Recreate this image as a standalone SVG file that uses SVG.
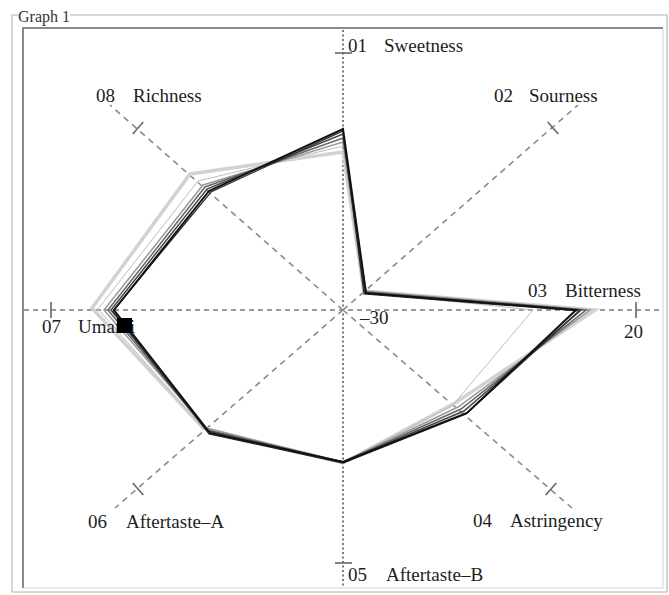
<svg xmlns="http://www.w3.org/2000/svg" width="669" height="595" viewBox="0 0 669 595">
<style>
.t{font-family:"Liberation Serif","Times New Roman",serif;font-size:19px;fill:#1e1e1e}
.g{font-family:"Liberation Serif","Times New Roman",serif;font-size:16px;fill:#333}
.ax{stroke:#7a7a7a;fill:none}
.dot{stroke-dasharray:2 2.5;stroke-width:2}
.dash{stroke-dasharray:5 4;stroke-width:1.6}
.dia{stroke-dasharray:6 5;stroke-width:1.6;stroke:#8a8a8a}
.tk{stroke:#666;stroke-width:1.6;fill:none}
.s{fill:none;stroke-linejoin:miter}
</style>
<rect width="669" height="595" fill="#fff"/>
<g id="frame">
<path d="M18,15 H12 V592 H667 V15 H70" fill="none" stroke="#cacaca" stroke-width="1.5"/>
<path d="M663,28 V588 H23" fill="none" stroke="#e2e2e2" stroke-width="1.5"/>
<path d="M23,588 V28 H663" fill="none" stroke="#8a8a8a" stroke-width="2"/>
<text class="g" x="18" y="22">Graph 1</text>
</g>
<g id="axes">
<line class="ax dot" x1="343" y1="30" x2="343" y2="588"/>
<line class="ax dash" x1="24" y1="310" x2="661" y2="310"/>
<line class="ax dia" x1="343" y1="310" x2="110" y2="105"/>
<line class="ax dia" x1="343" y1="310" x2="578" y2="105"/>
<line class="ax dia" x1="343" y1="310" x2="115" y2="508"/>
<line class="ax dia" x1="343" y1="310" x2="572" y2="508"/>
<line class="tk" x1="335" y1="53" x2="352" y2="53"/>
<line class="tk" x1="335" y1="563" x2="352" y2="563"/>
<line class="tk" x1="51" y1="302" x2="51" y2="318"/>
<line class="tk" x1="636" y1="302" x2="636" y2="318"/>
<line class="tk" x1="132.7" y1="134" x2="143.3" y2="122"/>
<line class="tk" x1="547.7" y1="122" x2="558.3" y2="134"/>
<line class="tk" x1="132.7" y1="483" x2="143.3" y2="495"/>
<line class="tk" x1="545.7" y1="495" x2="556.3" y2="483"/>
</g>
<g id="series">
<polygon class="s" stroke="#d2d2d2" stroke-width="3.5" points="343,152 364,291 595,310 455,403 343,463 203,428 92,308 190,174"/>
<polygon class="s" stroke="#bdbdbd" stroke-width="1" points="343,146 363,292 533,310 452,406 343,462 205,430 98,309 198,181"/>
<polygon class="s" stroke="#9a9a9a" stroke-width="1.5" points="343,142 365,291 590,310 458,407 343,462 206,428 104,310 203,185"/>
<polygon class="s" stroke="#666" stroke-width="1.5" points="343,138 366,292 586,310 461,409 343,462 207,430 108,310 205,187"/>
<polygon class="s" stroke="#444" stroke-width="1.5" points="343,134 365,293 581,310 464,411 343,462 208,431 111,310 207,189"/>
<polygon class="s" stroke="#2a2a2a" stroke-width="1.2" points="343,131 364,294 579,311 466,414 343,463 209,434 113,311 211,192"/>
<polygon class="s" stroke="#111" stroke-width="2" points="343,129 366,293 576,310 467,413 343,462 210,433 114,310 209,191"/>
</g>
<g id="labels">
<text class="t" x="348" y="52">01</text><text class="t" x="384" y="52">Sweetness</text>
<text class="t" x="494" y="102">02</text><text class="t" x="529" y="102">Sourness</text>
<text class="t" x="528" y="297">03</text><text class="t" x="565" y="297">Bitterness</text>
<text class="t" x="473" y="527">04</text><text class="t" x="510" y="527">Astringency</text>
<text class="t" x="348" y="581">05</text><text class="t" x="386" y="581">Aftertaste–B</text>
<text class="t" x="88" y="528">06</text><text class="t" x="126" y="528">Aftertaste–A</text>
<text class="t" x="42" y="333">07</text><text class="t" x="78" y="333">Umami</text>
<text class="t" x="96" y="102">08</text><text class="t" x="133" y="102">Richness</text>
<text class="t" x="360" y="324">–30</text>
<text class="t" x="624" y="338">20</text>
</g>
<g id="marker">
<rect x="117" y="318" width="15" height="15" fill="#000"/>
</g>
</svg>
